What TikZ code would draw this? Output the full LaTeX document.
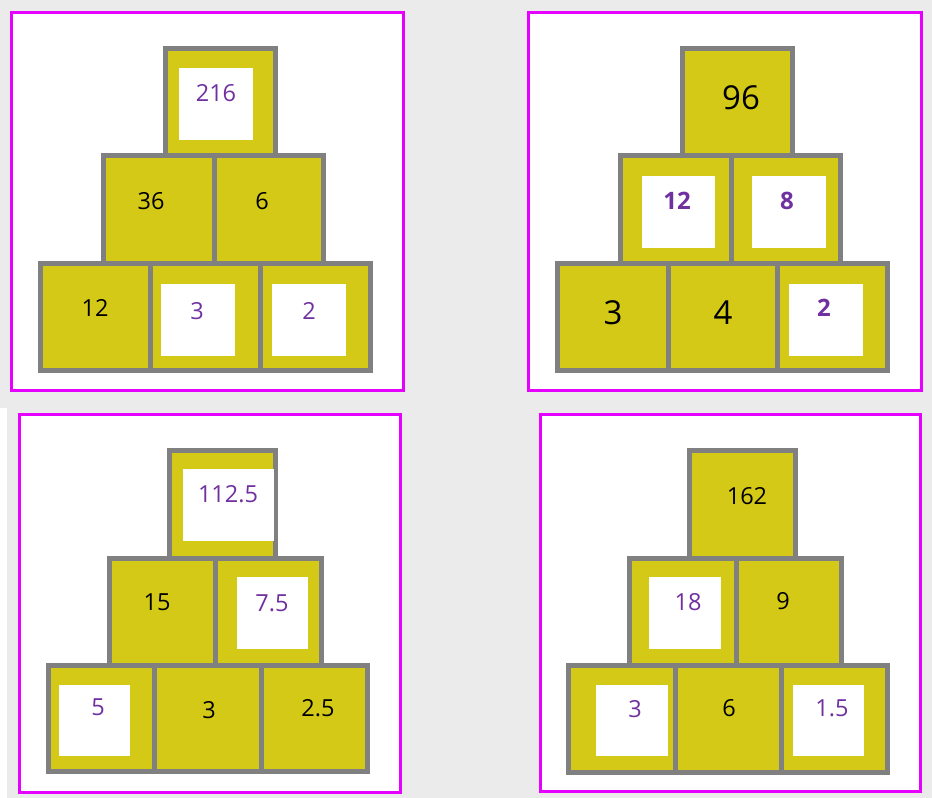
\documentclass[tikz,border=0pt]{standalone}
\usepackage{fontspec}
\setmainfont{Open Sans}
\usetikzlibrary{fit}
\definecolor{bg}{HTML}{EBEBEB}
\definecolor{gold}{HTML}{D4C916}
\definecolor{edgegray}{HTML}{808080}
\definecolor{mag}{HTML}{E600FF}
\definecolor{purp}{HTML}{7030A0}
\tikzset{
  panel/.style={draw=mag, line width=3pt, fill=white, inner sep=0pt},
  cell/.style={draw=edgegray, fill=gold, line width=5pt, inner sep=0pt},
  hole/.style={fill=white, inner sep=0pt},
  num/.style={inner sep=0pt, font=\fontsize{23.5}{26}\selectfont},
  given/.style={num, text=black},
  ans/.style={num, text=purp},
  biggiven/.style={inner sep=0pt, text=black, font=\fontsize{33}{36}\selectfont},
  boldans/.style={inner sep=0pt, text=purp, font=\fontsize{24}{26}\selectfont\bfseries},
}
\begin{document}
\begin{tikzpicture}[x=1pt,y=-1pt]
\fill[bg] (0,0) rectangle (932,798);
\useasboundingbox (0,0) rectangle (932,798);
\fill[white] (0,408) rectangle (7,798);

% ---------- Panel 1 ----------
\node[panel, fit={(11.5,12.5) (403.5,390.5)}] (P1) {};
\node[cell, fit={(165.5,48.5) (275.5,155.5)}] (p1t) {};
\node[cell, fit={(103.5,155.5) (214,263.5)}] (p1m1) {};
\node[cell, fit={(214,155.5) (323.5,263.5)}] (p1m2) {};
\node[cell, fit={(40.5,263.5) (150.5,370.5)}] (p1b1) {};
\node[cell, fit={(150.5,263.5) (260.5,370.5)}] (p1b2) {};
\node[cell, fit={(260.5,263.5) (370.5,370.5)}] (p1b3) {};
\node[hole, fit={(179,68) (253,140)}] (p1th) {};
\node[hole, fit={(161,284) (235,356)}] (p1b2h) {};
\node[hole, fit={(272,284) (346,356)}] (p1b3h) {};
\node[ans] (p1tt) at (216,93) {216};
\node[given] (p1m1t) at (151,201) {36};
\node[given] (p1m2t) at (262,201) {6};
\node[given] (p1b1t) at (95,308) {12};
\node[ans] (p1b2t) at (197,311) {3};
\node[ans] (p1b3t) at (309,311) {2};

% ---------- Panel 2 ----------
\node[panel, fit={(528.5,12.5) (921.5,390.5)}] (P2) {};
\node[cell, fit={(682.5,48.5) (792.5,155.5)}] (p2t) {};
\node[cell, fit={(620.5,155.5) (731,263.5)}] (p2m1) {};
\node[cell, fit={(731,155.5) (840.5,263.5)}] (p2m2) {};
\node[cell, fit={(557.5,263.5) (668,370.5)}] (p2b1) {};
\node[cell, fit={(668,263.5) (777.5,370.5)}] (p2b2) {};
\node[cell, fit={(777.5,263.5) (887.5,370.5)}] (p2b3) {};
\node[hole, fit={(642,176) (715,248)}] (p2m1h) {};
\node[hole, fit={(752,176) (826,248)}] (p2m2h) {};
\node[hole, fit={(789,284) (863,356)}] (p2b3h) {};
\node[biggiven] (p2tt) at (741,98) {96};
\node[boldans] (p2m1t) at (677,201) {12};
\node[boldans] (p2m2t) at (787,201) {8};
\node[biggiven] (p2b1t) at (613,313) {3};
\node[biggiven] (p2b2t) at (723,313) {4};
\node[boldans] (p2b3t) at (824,308) {2};

% ---------- Panel 3 ----------
\node[panel, fit={(19.5,414.5) (400.5,792.5)}] (P3) {};
\node[cell, fit={(169.5,450.5) (275.5,558)}] (p3t) {};
\node[cell, fit={(109.5,558) (215.5,665)}] (p3m1) {};
\node[cell, fit={(215.5,558) (321.5,665)}] (p3m2) {};
\node[cell, fit={(48.5,665) (154.5,771.5)}] (p3b1) {};
\node[cell, fit={(154.5,665) (261,771.5)}] (p3b2) {};
\node[cell, fit={(261,665) (367.5,771.5)}] (p3b3) {};
\node[hole, fit={(183,469) (274,541)}] (p3th) {};
\node[hole, fit={(237,577) (308,649)}] (p3m2h) {};
\node[hole, fit={(59,685) (130,756)}] (p3b1h) {};
\node[ans] (p3tt) at (228,494) {112.5};
\node[given] (p3m1t) at (157,602) {15};
\node[ans] (p3m2t) at (272,603) {7.5};
\node[ans] (p3b1t) at (98,707) {5};
\node[given] (p3b2t) at (209,710) {3};
\node[given] (p3b3t) at (318,708) {2.5};

% ---------- Panel 4 ----------
\node[panel, fit={(540.5,414.5) (920.5,791.5)}] (P4) {};
\node[cell, fit={(689.5,450.5) (795.5,558)}] (p4t) {};
\node[cell, fit={(629.5,558) (736,665)}] (p4m1) {};
\node[cell, fit={(736,558) (841.5,665)}] (p4m2) {};
\node[cell, fit={(568.5,665) (675,772.5)}] (p4b1) {};
\node[cell, fit={(675,665) (781,772.5)}] (p4b2) {};
\node[cell, fit={(781,665) (887.5,772.5)}] (p4b3) {};
\node[hole, fit={(649,577) (721,649)}] (p4m1h) {};
\node[hole, fit={(596,685) (668,756)}] (p4b1h) {};
\node[hole, fit={(793,685) (864,756)}] (p4b3h) {};
\node[given] (p4tt) at (747,496) {162};
\node[ans] (p4m1t) at (688,602) {18};
\node[given] (p4m2t) at (783,601) {9};
\node[ans] (p4b1t) at (635,709) {3};
\node[given] (p4b2t) at (729,708) {6};
\node[ans] (p4b3t) at (832,708) {1.5};
\end{tikzpicture}
\end{document}
